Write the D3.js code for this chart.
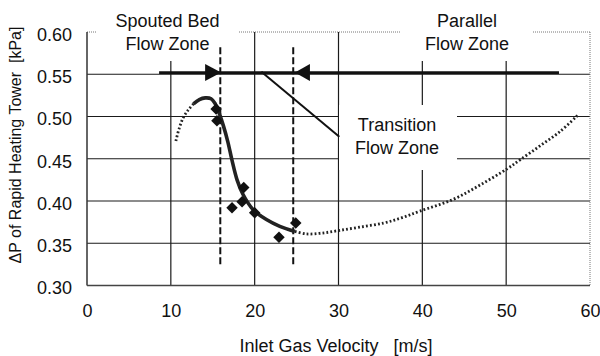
<!DOCTYPE html>
<html>
<head>
<meta charset="utf-8">
<script src="https://cdn.jsdelivr.net/npm/d3@7"></script>
<style>
  body { margin: 0; background: #fff; }
  text { font-family: Arial, "Liberation Sans", sans-serif; font-size: 18px; fill: #111; }
</style>
</head>
<body>
<svg id="chart" width="600" height="356"></svg>
<script>
// measured points
var velocity     = [15.4, 15.5, 17.3, 18.5, 18.7, 20.0, 22.9, 24.9];
var pressureDrop = [0.509, 0.495, 0.392, 0.399, 0.416, 0.386, 0.357, 0.374];

// fitted curve, dotted part on the left
var fitLowV  = [10.6, 11.0, 11.5, 12.1, 12.7];
var fitLowDP = [0.471, 0.486, 0.499, 0.508, 0.515];
// fitted curve, solid part
var fitMidV  = [12.7, 13.4, 14.1, 14.8, 15.3, 15.8, 16.3, 16.8, 17.3, 17.9, 18.6, 19.8, 21.4, 23.0, 24.8];
var fitMidDP = [0.515, 0.520, 0.522, 0.521, 0.515, 0.503, 0.488, 0.470, 0.448, 0.425, 0.408, 0.390, 0.378, 0.370, 0.364];
// fitted curve, dotted part on the right
var fitHighV  = [24.8, 26.2, 28.0, 30.0, 32.5, 35.4, 37.5, 39.7, 43.7, 46.9, 50.1, 51.7, 54.0, 56.4, 58.6];
var fitHighDP = [0.364, 0.361, 0.362, 0.365, 0.369, 0.374, 0.380, 0.388, 0.402, 0.419, 0.438, 0.449, 0.465, 0.482, 0.502];

// zone markers
var zoneBounds   = [15.9, 24.6];
var boundSpan    = [0.325, 0.582];
var arrowLevel   = 0.552;
var arrowSpan    = [8.6, 56.3];
var arrowTips    = [16.0, 24.8];
var pointerV     = [20.8, 30.1];
var pointerDP    = [0.553, 0.476];

var xTicks = [0, 10, 20, 30, 40, 50, 60];
var yTicks = [0.30, 0.35, 0.40, 0.45, 0.50, 0.55, 0.60];

var svg = d3.select("#chart");
var margin = {left: 87, right: 10, top: 32, bottom: 70.5};
var W = 600 - margin.left - margin.right;
var H = 356 - margin.top - margin.bottom;

var x = d3.scaleLinear().domain([0, 60]).range([margin.left, margin.left + W]);
var y = d3.scaleLinear().domain([0.30, 0.60]).range([margin.top + H, margin.top]);

// grid
var grid = svg.append("g");
grid.selectAll(".vg").data(xTicks.slice(1, -1)).enter().append("line")
  .attr("x1", d => x(d)).attr("x2", d => x(d))
  .attr("y1", y(0.60)).attr("y2", y(0.30))
  .attr("stroke", "#1a1a1a").attr("stroke-width", 1.2);
grid.selectAll(".hg").data(yTicks.slice(1, -1)).enter().append("line")
  .attr("x1", x(0)).attr("x2", x(60))
  .attr("y1", d => y(d)).attr("y2", d => y(d))
  .attr("stroke", "#1a1a1a").attr("stroke-width", 1.2);

// frame
svg.append("line").attr("x1", x(0)).attr("x2", x(60)).attr("y1", y(0.60)).attr("y2", y(0.60))
  .attr("stroke", "#777").attr("stroke-dasharray", "1,1");
svg.append("line").attr("x1", x(60)).attr("x2", x(60)).attr("y1", y(0.60)).attr("y2", y(0.30))
  .attr("stroke", "#777").attr("stroke-dasharray", "1,1");
svg.append("line").attr("x1", x(0)).attr("x2", x(0)).attr("y1", y(0.60)).attr("y2", y(0.30))
  .attr("stroke", "#333").attr("stroke-width", 1.5);
svg.append("line").attr("x1", x(0)).attr("x2", x(60)).attr("y1", y(0.30)).attr("y2", y(0.30))
  .attr("stroke", "#444").attr("stroke-width", 1.5);

// axes (labels only)
var yAxis = d3.axisLeft(y).tickValues(yTicks).tickFormat(d3.format(".2f")).tickSize(0).tickPadding(15);
var gy = svg.append("g").attr("transform", "translate(" + margin.left + ",0)").call(yAxis);
gy.select(".domain").remove();
gy.selectAll("text").attr("dy", "0.47em").style("font-size", "18px").attr("fill", "#111");

var xAxis = d3.axisBottom(x).tickValues(xTicks).tickSize(0).tickPadding(19);
var gx = svg.append("g").attr("transform", "translate(0," + (margin.top + H) + ")").call(xAxis);
gx.select(".domain").remove();
gx.selectAll("text").style("font-size", "18px").attr("fill", "#111");

// annotation boxes
var boxes = [
  {x0: 97,  x1: 238, y0: 0,   y1: 61,  cx: 167.5, lines: ["Spouted Bed", "Flow Zone"], b: 27},
  {x0: 401, x1: 533, y0: 0,   y1: 61,  cx: 467,   lines: ["Parallel", "Flow Zone"], b: 27},
  {x0: 339, x1: 457, y0: 105, y1: 170, cx: 397,   lines: ["Transition", "Flow Zone"], b: 130.7}
];
boxes.forEach(function(bx) {
  svg.append("rect").attr("x", bx.x0).attr("y", bx.y0)
    .attr("width", bx.x1 - bx.x0).attr("height", bx.y1 - bx.y0).attr("fill", "#fff");
  bx.lines.forEach(function(t, i) {
    svg.append("text").attr("x", bx.cx).attr("y", bx.b + i * 23.3)
      .attr("text-anchor", "middle").text(t);
  });
});

// zone boundaries
svg.selectAll(".zb").data(zoneBounds).enter().append("line")
  .attr("x1", d => x(d)).attr("x2", d => x(d))
  .attr("y1", y(boundSpan[1])).attr("y2", y(boundSpan[0]))
  .attr("stroke", "#111").attr("stroke-width", 2).attr("stroke-dasharray", "7,3");

// arrow line
svg.append("line")
  .attr("x1", x(arrowSpan[0])).attr("x2", x(arrowSpan[1]))
  .attr("y1", y(arrowLevel)).attr("y2", y(arrowLevel))
  .attr("stroke", "#111").attr("stroke-width", 2.8);
var ay = y(arrowLevel);
svg.append("path")
  .attr("d", "M" + x(arrowTips[0]) + "," + ay + "l-16,-8.5v17z").attr("fill", "#111");
svg.append("path")
  .attr("d", "M" + x(arrowTips[1]) + "," + ay + "l15,-8.5v17z").attr("fill", "#111");

// pointer to transition label
svg.append("line")
  .attr("x1", x(pointerV[0])).attr("y1", y(pointerDP[0]))
  .attr("x2", x(pointerV[1])).attr("y2", y(pointerDP[1]))
  .attr("stroke", "#111").attr("stroke-width", 2);

// fitted curve
var line = d3.line().x(d => x(d[0])).y(d => y(d[1])).curve(d3.curveCatmullRom);
svg.append("path").datum(d3.zip(fitLowV, fitLowDP)).attr("d", line)
  .attr("fill", "none").attr("stroke", "#222").attr("stroke-width", 2.8).attr("stroke-dasharray", "1.8,2.2");
svg.append("path").datum(d3.zip(fitHighV, fitHighDP)).attr("d", line)
  .attr("fill", "none").attr("stroke", "#222").attr("stroke-width", 2.8).attr("stroke-dasharray", "1.8,2.2");
svg.append("path").datum(d3.zip(fitMidV, fitMidDP)).attr("d", line)
  .attr("fill", "none").attr("stroke", "#222").attr("stroke-width", 3.6);

// measured points
var diamond = d3.symbol().type(d3.symbolSquare).size(66);
svg.selectAll(".pt").data(d3.zip(velocity, pressureDrop)).enter().append("path")
  .attr("d", diamond)
  .attr("transform", d => "translate(" + x(d[0]) + "," + y(d[1]) + ") rotate(45)")
  .attr("fill", "#111");

// axis titles
svg.append("text").attr("x", 336).attr("y", 351.7).attr("text-anchor", "middle")
  .style("white-space", "pre").text("Inlet Gas Velocity   [m/s]");
svg.append("text").attr("transform", "translate(21,145) rotate(-90)").attr("text-anchor", "middle")
  .style("white-space", "pre").style("font-size", "16px").text("\u0394P of Rapid Heating Tower  [kPa]");
</script>
</body>
</html>
